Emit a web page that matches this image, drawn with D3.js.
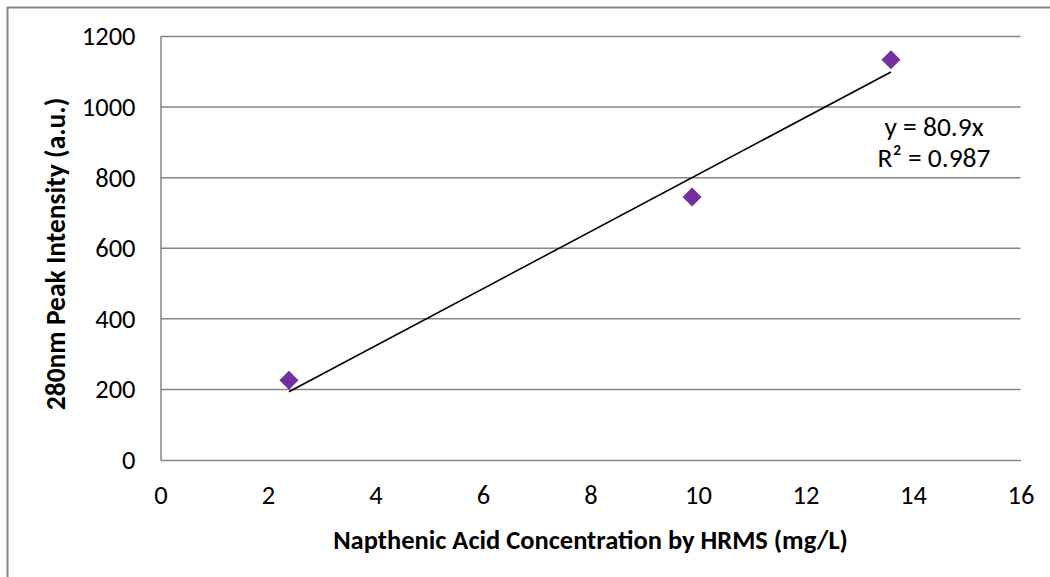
<!DOCTYPE html>
<html>
<head>
<meta charset="utf-8">
<script src="https://cdn.jsdelivr.net/npm/d3@7"></script>
<style>
  html, body { margin: 0; padding: 0; background: #fff; }
  svg { display: block; }
  text { font-family: Carlito, Calibri, Lato, "Open Sans", sans-serif; fill: #000; }
</style>
</head>
<body>
<svg id="chart" width="1050" height="577"></svg>
<script>
// Measured concentrations (mg/L) and 280 nm peak intensities
const concentration = [2.39, 9.89, 13.59];
const intensity = [226, 745, 1134];

// Linear fit through the origin
const slope = 80.9;
const rSquared = 0.987;

const xTicks = [0, 2, 4, 6, 8, 10, 12, 14, 16];
const yTicks = [0, 200, 400, 600, 800, 1000, 1200];

const xTitle = "Napthenic Acid Concentration by HRMS (mg/L)";
const yTitle = "280nm Peak Intensity (a.u.)";

const svg = d3.select("#chart");
const W = 1050, H = 577;
const plot = { left: 160.5, right: 1020.5, top: 36.5, bottom: 460 };

const x = d3.scaleLinear().domain([0, 16]).range([plot.left, plot.right]);
const y = d3.scaleLinear().domain([0, 1200]).range([plot.bottom, plot.top]);

const gray = "#868686";
const tickFont = "26.5px";

// Chart area border
svg.append("rect")
  .attr("x", 7.5).attr("y", 7.5)
  .attr("width", W + 10).attr("height", H + 10)
  .attr("fill", "none").attr("stroke", gray).attr("stroke-width", 2);

// Horizontal gridlines
svg.append("g").selectAll("line").data(yTicks.filter(d => d > 0)).join("line")
  .attr("x1", plot.left).attr("x2", plot.right)
  .attr("y1", d => y(d)).attr("y2", d => y(d))
  .attr("stroke", gray).attr("stroke-width", 1.5);

// Y axis
const yAxis = svg.append("g")
  .attr("transform", `translate(${plot.left},0)`)
  .call(d3.axisLeft(y).tickValues(yTicks).tickFormat(d3.format("d")).tickSize(0).tickPadding(25));
yAxis.select(".domain").attr("stroke", gray).attr("stroke-width", 1.5);
yAxis.selectAll("text").style("font-size", tickFont).attr("fill", "#000");

// X axis
const xAxis = svg.append("g")
  .attr("transform", `translate(0,${plot.bottom})`)
  .call(d3.axisBottom(x).tickValues(xTicks).tickFormat(d3.format("d")).tickSize(0));
xAxis.select(".domain").attr("stroke", gray).attr("stroke-width", 1.5);
xAxis.selectAll("text").style("font-size", tickFont).attr("fill", "#000")
  .attr("y", 44).attr("dy", 0);

// Axis titles
svg.append("text")
  .attr("x", (plot.left + plot.right) / 2).attr("y", 549)
  .attr("text-anchor", "middle")
  .style("font-size", "26.5px").style("font-weight", "bold")
  .text(xTitle);

svg.append("text")
  .attr("transform", `translate(65,254) rotate(-90)`)
  .attr("text-anchor", "middle")
  .style("font-size", "27.5px").style("font-weight", "bold")
  .text(yTitle);

// Trendline spanning the data range
const xMin = d3.min(concentration), xMax = d3.max(concentration);
svg.append("line")
  .attr("x1", x(xMin)).attr("y1", y(slope * xMin))
  .attr("x2", x(xMax)).attr("y2", y(slope * xMax))
  .attr("stroke", "#000").attr("stroke-width", 1.6);

// Diamond markers
const diamond = d3.symbol().type(d3.symbolDiamond2).size(230);
svg.append("g").selectAll("path").data(concentration.map((c, i) => [c, intensity[i]])).join("path")
  .attr("d", diamond)
  .attr("transform", d => `translate(${x(d[0])},${y(d[1])})`)
  .attr("fill", "#7030A0");

// Fit equation label
svg.append("text")
  .attr("x", 934).attr("y", 136)
  .attr("text-anchor", "middle")
  .style("font-size", "27.5px")
  .text(`y = ${slope}x`);
svg.append("text")
  .attr("x", 934).attr("y", 167)
  .attr("text-anchor", "middle")
  .style("font-size", "27.5px")
  .text(`R² = ${rSquared}`);
</script>
</body>
</html>
